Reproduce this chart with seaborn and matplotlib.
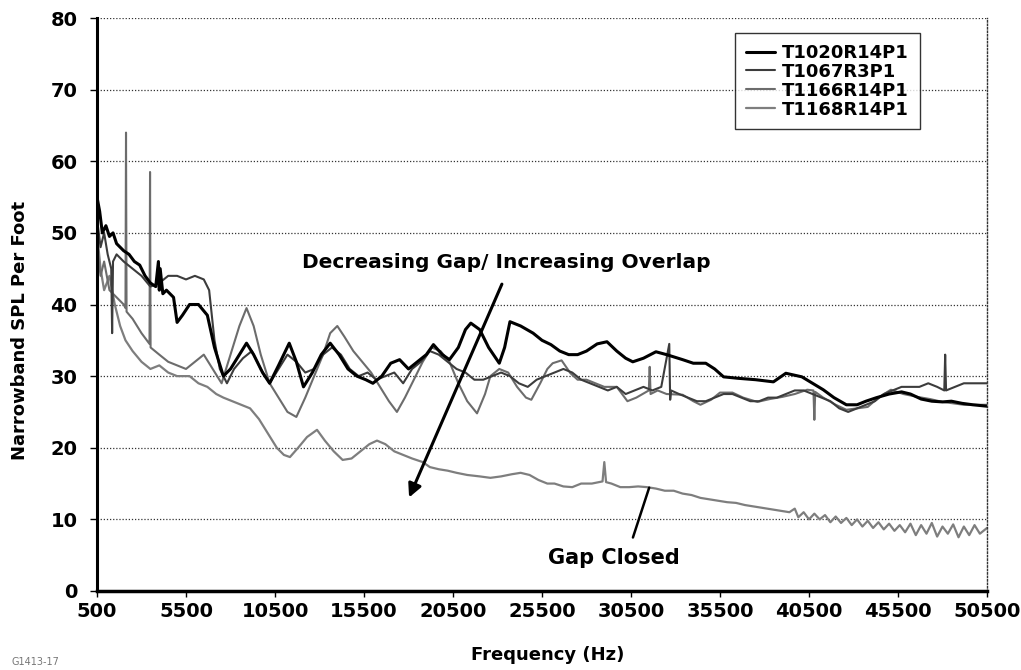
import pandas as pd
import matplotlib
matplotlib.use("Agg")
import matplotlib.pyplot as plt
import seaborn as sns

# Narrowband SPL per foot for four seal configurations
series_names = ["T1020R14P1", "T1067R3P1", "T1166R14P1", "T1168R14P1"]

freq_1020 = [500, 650, 800, 1000, 1200, 1400, 1600, 1800, 2000, 2300,
             2600, 2900, 3200, 3500, 3800, 3950, 4000, 4050, 4200, 4400,
             4600, 4800, 5000, 5300, 5700, 6200, 6700, 7100, 7600, 8000,
             8500, 8900, 9300, 9800, 10200, 10700, 11300, 11700, 12100, 12600,
             13100, 13600, 14100, 14600, 15100, 15600, 16000, 16500, 17000, 17500,
             18000, 18500, 19000, 19400, 19900, 20300, 20800, 21200, 21500, 22000,
             22500, 23100, 23400, 23700, 24300, 25000, 25500, 26000, 26500, 27000,
             27500, 28000, 28600, 29150, 29700, 30200, 30600, 31200, 31900, 32500,
             33400, 34000, 34700, 35200, 35700, 36500, 37500, 38500, 39200, 40100,
             40700, 41300, 41900, 42600, 43200, 43700, 44300, 45000, 45700, 46200,
             46800, 47400, 48000, 48500, 49100, 49700, 50500]
spl_1020 = [55, 53, 50, 51, 49.5, 50, 48.5, 48, 47.5, 47,
            46, 45.5, 44, 43, 42.5, 46, 42, 45, 41.5, 42,
            41.5, 41, 37.5, 38.5, 40, 40, 38.5, 34, 30, 31,
            33, 34.6, 33, 30.5, 29, 31.5, 34.6, 32, 28.5, 30.5,
            33, 34.6, 33, 31, 30, 29.5, 29, 30, 31.8, 32.3,
            31, 32, 33, 34.4, 33, 32.3, 34, 36.5, 37.4, 36.5,
            34, 31.8, 34, 37.6, 37, 36, 35, 34.4, 33.5, 33,
            33, 33.5, 34.5, 34.8, 33.5, 32.5, 32, 32.5, 33.4, 33,
            32.3, 31.8, 31.8, 31, 29.9, 29.7, 29.5, 29.2, 30.4, 29.9,
            29, 28.1, 27, 26, 26, 26.5, 27, 27.5, 27.8, 27.5,
            26.8, 26.5, 26.4, 26.5, 26.2, 26, 25.8]

freq_1067 = [500, 700, 900, 1100, 1300, 1350, 1400, 1600, 2000, 2500,
             3000, 3500, 4000, 4500, 5000, 5500, 6000, 6500, 6800, 7100,
             7400, 7800, 8200, 8700, 9200, 9700, 10200, 10700, 11200, 11700,
             12200, 12700, 13200, 13700, 14200, 14700, 15200, 15700, 16200, 16700,
             17200, 17700, 18200, 18700, 19200, 19700, 20200, 20700, 21200, 21700,
             22200, 22700, 23200, 23700, 24200, 24700, 25200, 25700, 26200, 26700,
             27200, 27700, 28200, 28700, 29200, 29700, 30200, 30700, 31200, 31700,
             32200, 32650, 32700, 32750, 33200, 33700, 34200, 34700, 35200, 35700,
             36200, 36700, 37200, 37700, 38200, 38700, 39200, 39700, 40200, 40700,
             41200, 41700, 42200, 42700, 43200, 43700, 44200, 44700, 45200, 45700,
             46200, 46700, 47200, 47700, 48100, 48150, 48200, 48700, 49200, 49700,
             50500]
spl_1067 = [52, 48, 50, 47, 45, 36, 46, 47, 46, 45,
            44, 42.5, 43, 44, 44, 43.5, 44, 43.5, 42, 35,
            31, 29, 31, 32.5, 33.5, 31, 29, 31, 33, 32,
            30.5, 31, 33, 34, 33, 31, 30, 30.5, 29.5, 30,
            30.5, 29, 31, 32, 33.5, 33, 32, 31, 30.5, 29.5,
            29.5, 30, 30.5, 30, 29, 28.5, 29.5, 30, 30.5, 31,
            30.5, 29.5, 29, 28.5, 28, 28.5, 27.5, 28, 28.5, 28,
            28.5, 34.5, 26.7, 28, 27.5, 27, 26.5, 26.5, 27, 27.5,
            27.5, 27, 26.5, 26.5, 27, 27, 27.5, 28, 28, 27.5,
            27, 26.5, 25.5, 25, 25.5, 26, 26.5, 27.5, 28, 28.5,
            28.5, 28.5, 29, 28.5, 28, 33, 28, 28.5, 29, 29,
            29]

freq_1166 = [500, 700, 900, 1200, 1600, 2000, 2100, 2130, 2160, 2500,
             3000, 3450, 3480, 3510, 4000, 4500, 5000, 5500, 6000, 6500,
             7000, 7500, 8000, 8500, 8900, 9300, 9700, 10200, 10700, 11200,
             11700, 12200, 12700, 13200, 13600, 14000, 14400, 14900, 15400, 15900,
             16400, 16900, 17350, 17800, 18300, 18800, 19300, 19800, 20300, 20800,
             21300, 21850, 22300, 22600, 23100, 23600, 24100, 24600, 24900, 25400,
             25800, 26100, 26600, 27100, 27500, 28000, 28500, 29000, 29700, 30300,
             30800, 31500, 31550, 31600, 32000, 32500, 33400, 34000, 34400, 35000,
             35500, 36200, 36800, 37600, 38300, 39000, 39700, 40400, 40750, 40800,
             40850, 41300, 42000, 42600, 43200, 43800, 44400, 45100, 45800, 46600,
             47300, 48000, 48600, 49200, 49800, 50500]
spl_1166 = [48, 44, 46, 42, 41, 40, 39.5, 64, 39, 38,
            36, 34.5, 58.5, 34, 33, 32, 31.5, 31, 32, 33,
            31, 29, 33, 37, 39.5, 37, 33, 29, 27, 25,
            24.3, 27, 30, 33, 36, 37, 35.5, 33.5, 32, 30.5,
            28.5, 26.5, 25, 27, 29.5, 32, 34, 33.5, 32, 29,
            26.5, 24.8, 27.5, 30, 31, 30.5, 28.5, 27, 26.7, 29,
            31, 31.8, 32.2, 30.4, 29.5, 29.5, 29, 28.5, 28.5, 26.5,
            27, 28, 31.3, 27.5, 28, 27.5, 27.4, 26.5, 26, 26.7,
            27.7, 27.7, 27, 26.4, 26.8, 27.1, 27.5, 28.1, 28, 23.9,
            27.8, 27, 26, 25.3, 25.5, 25.7, 27, 28.1, 27.5, 27.1,
            26.8, 26.4, 26.2, 26, 26, 26]

freq_1168 = [500, 700, 900, 1200, 1500, 1800, 2100, 2500, 3000, 3500,
             4000, 4500, 5000, 5700, 6200, 6700, 7200, 7600, 8100, 8600,
             9100, 9600, 10100, 10600, 11000, 11340, 11800, 12300, 12860, 13300,
             13800, 14300, 14800, 15300, 15800, 16230, 16700, 17200, 17700, 18200,
             18800, 19200, 19700, 20200, 20700, 21300, 22000, 22600, 23200, 23800,
             24300, 24800, 25300, 25800, 26200, 26700, 27200, 27700, 28300, 28900,
             29000, 29100, 29400, 29900, 30400, 30900, 31400, 31900, 32400, 32900,
             33400, 33900, 34400, 34900, 35400, 35900, 36400, 36900, 37400, 37900,
             38400, 38900, 39400, 39700, 39900, 40200, 40500, 40800, 41100, 41400,
             41700, 42000, 42300, 42600, 42900, 43200, 43500, 43800, 44100, 44400,
             44700, 45000, 45300, 45600, 45900, 46200, 46500, 46800, 47100, 47400,
             47700, 48000, 48300, 48600, 48900, 49200, 49500, 49800, 50100, 50500]
spl_1168 = [50, 45, 42, 44, 40, 37, 35, 33.5, 32, 31,
            31.5, 30.5, 30, 30, 29, 28.5, 27.5, 27, 26.5, 26,
            25.5, 24, 22, 20, 19, 18.7, 20, 21.5, 22.5, 21,
            19.5, 18.3, 18.5, 19.5, 20.5, 21, 20.5, 19.5, 19, 18.5,
            18, 17.3, 17, 16.8, 16.5, 16.2, 16, 15.8, 16, 16.3,
            16.5, 16.2, 15.5, 15, 15, 14.6, 14.5, 15, 15, 15.3,
            18, 15.2, 15, 14.5, 14.5, 14.6, 14.5, 14.3, 14, 14,
            13.6, 13.4, 13, 12.8, 12.6, 12.4, 12.3, 12, 11.8, 11.6,
            11.4, 11.2, 11, 11.5, 10.3, 11, 10, 10.8, 10, 10.6,
            9.6, 10.4, 9.5, 10.2, 9.2, 10, 9, 9.8, 8.8, 9.6,
            8.6, 9.4, 8.4, 9.2, 8.2, 9.4, 7.8, 9.2, 8, 9.5,
            7.6, 9, 8, 9.3, 7.5, 9, 7.8, 9.2, 8, 8.8]

x_ticks = list(range(500, 50501, 5000))
y_ticks = list(range(0, 81, 10))

frames = []
for name, f, v in zip(series_names,
                      [freq_1020, freq_1067, freq_1166, freq_1168],
                      [spl_1020, spl_1067, spl_1166, spl_1168]):
    frames.append(pd.DataFrame({"Frequency": f, "SPL": v, "Run": name}))
df = pd.concat(frames, ignore_index=True)

sns.set_theme(style="white")
plt.rcParams["font.family"] = ["DejaVu Sans"]
plt.rcParams["text.color"] = "black"
plt.rcParams["axes.labelcolor"] = "black"
plt.rcParams["xtick.color"] = "black"
plt.rcParams["ytick.color"] = "black"

colors = {"T1020R14P1": "#000000", "T1067R3P1": "#3c3c3c",
          "T1166R14P1": "#6c6c6c", "T1168R14P1": "#7e7e7e"}
widths = {"T1020R14P1": 2.2, "T1067R3P1": 1.5,
          "T1166R14P1": 1.5, "T1168R14P1": 1.6}

fig = plt.figure(figsize=(10.21, 6.70), dpi=100)
ax = fig.add_axes([97 / 1021, 1 - 591 / 670, (987 - 97) / 1021, (591 - 18) / 670])

for name in reversed(series_names):
    sns.lineplot(data=df[df["Run"] == name], x="Frequency", y="SPL",
                 color=colors[name], linewidth=widths[name],
                 estimator=None, sort=False, ax=ax, label=name)

ax.set_xlim(500, 50500)
ax.set_ylim(0, 80)
ax.set_xticks(x_ticks)
ax.set_yticks(y_ticks)
ax.set_xticklabels([str(t) for t in x_ticks], fontsize=14, fontweight="bold", color="black")
ax.set_yticklabels([str(t) for t in y_ticks], fontsize=14, fontweight="bold", color="black")
ax.set_xlabel("")
ax.set_ylabel("")

ax.yaxis.grid(True, linestyle=(0, (1, 1.5)), color="#333333", linewidth=0.9)
ax.xaxis.grid(False)
ax.set_axisbelow(True)

ax.spines["top"].set_visible(False)
ax.spines["right"].set_linestyle((0, (1, 1.5)))
ax.spines["right"].set_color("#333333")
ax.spines["right"].set_linewidth(1.0)
ax.spines["left"].set_color("black")
ax.spines["left"].set_linewidth(2.2)
ax.spines["bottom"].set_color("black")
ax.spines["bottom"].set_linewidth(2.5)

ax.tick_params(axis="x", direction="out", length=4, width=1, color="black", pad=4, bottom=True)
ax.tick_params(axis="y", direction="out", length=5, width=1, color="black", pad=9, left=True)

# legend in series order
handles, labels = ax.get_legend_handles_labels()
lookup = dict(zip(labels, handles))
leg = ax.legend([lookup[n] for n in series_names], series_names,
                loc="upper left", bbox_to_anchor=(735 / 1021, 1 - 33 / 670),
                bbox_transform=fig.transFigure, borderaxespad=0,
                frameon=True, fancybox=False, edgecolor="black",
                handlelength=1.6, handletextpad=0.4, labelspacing=0.05,
                borderpad=0.6, prop={"weight": "bold", "size": 13})
leg.get_frame().set_linewidth(1.0)
for t in leg.get_texts():
    t.set_color("black")

# annotations
ax.text(23480, 45.8, "Decreasing Gap/ Increasing Overlap", ha="center", va="center",
        fontsize=14.5, fontweight="bold", color="black")
ax.annotate("", xy=(17970, 12.7), xytext=(23310, 43.2),
            arrowprops=dict(arrowstyle="-|>", color="black", lw=2.2, mutation_scale=20))
ax.text(29545, 4.6, "Gap Closed", ha="center", va="center",
        fontsize=15, fontweight="bold", color="black")
ax.annotate("", xy=(31570, 14.8), xytext=(30560, 7.1),
            arrowprops=dict(arrowstyle="-", color="black", lw=1.8))

fig.text(20 / 1021, 1 - 330 / 670, "Narrowband SPL Per Foot", rotation=90,
         ha="center", va="center", fontsize=13, fontweight="bold", color="black")
fig.text(548 / 1021, 1 - 655 / 670, "Frequency (Hz)", ha="center", va="center",
         fontsize=13, fontweight="bold", color="black")
fig.text(12 / 1021, 1 - 662 / 670, "G1413-17", ha="left", va="center",
         fontsize=7, color="#777777")

fig.savefig("out.png", dpi=100)
